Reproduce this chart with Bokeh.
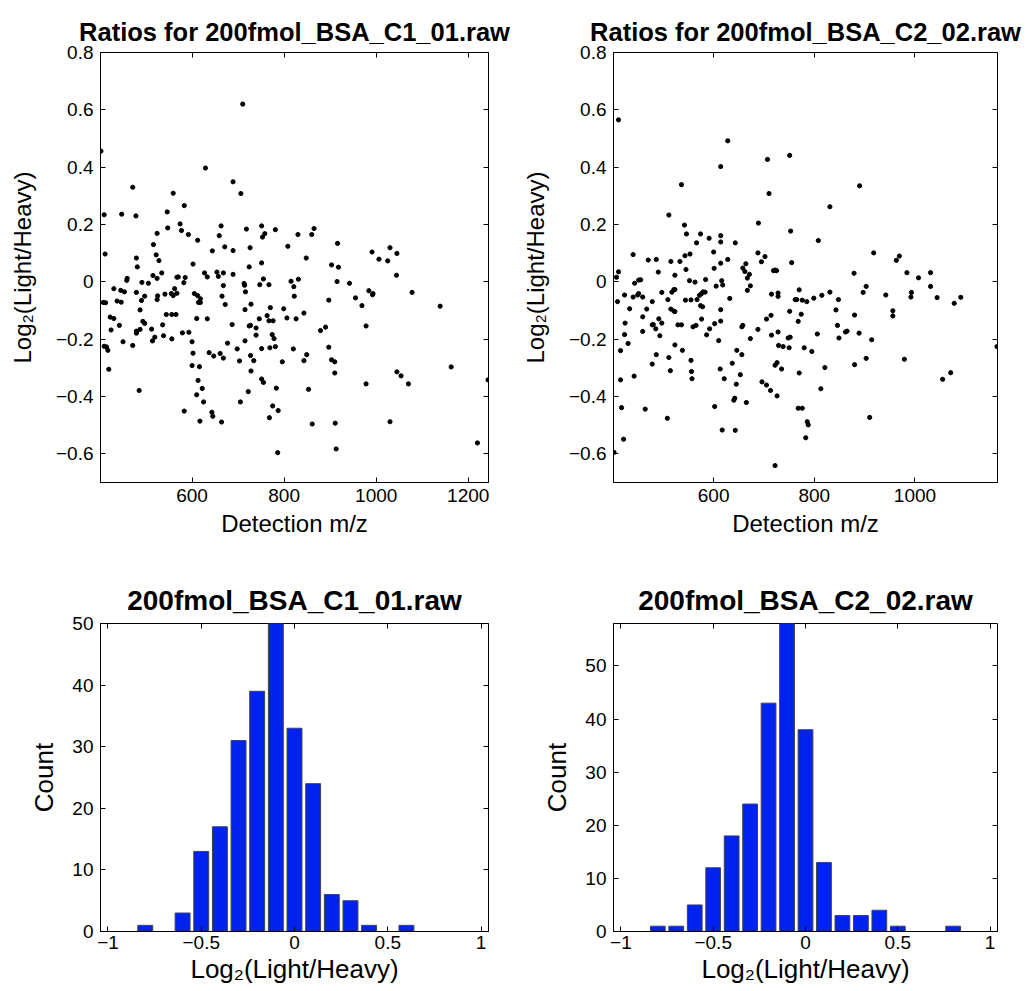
from bokeh.plotting import figure
from bokeh.layouts import gridplot
from bokeh.models import (FixedTicker, CustomJSTickFormatter, LinearAxis, Range1d,
                          CustomLabelingPolicy)
from bokeh.embed import file_html
from bokeh.resources import INLINE

# ---------------- data ----------------
mz_c1 = [710, 402, 629, 689, 471, 706, 559, 583, 546, 409, 447, 478, 574, 663, 751, 547, 577, 718, 781, 524,
         592, 758, 830, 753, 659, 612, 516, 808, 671, 726, 644, 689, 411, 522, 479, 528, 751, 602, 481, 724,
         534, 627, 654, 668, 515, 633, 657, 567, 570, 585, 524, 459, 458, 689, 755, 815, 831, 491, 505, 582,
         713, 714, 747, 767, 668, 821, 430, 445, 453, 479, 541, 555, 562, 567, 559, 605, 612, 618, 497, 525,
         524, 716, 665, 822, 407, 412, 437, 446, 490, 614, 618, 672, 728, 770, 799, 487, 715, 806, 826, 746,
         763, 544, 556, 565, 610, 633, 422, 430, 493, 497, 687, 724, 727, 739, 767, 776, 442, 536, 843, 487,
         512, 424, 479, 479, 579, 593, 774, 778, 739, 519, 538, 556, 514, 450, 471, 600, 677, 715, 409, 414,
         417, 698, 751, 769, 781, 820, 602, 637, 647, 661, 668, 727, 734, 703, 796, 843, 600, 616, 419, 728,
         751, 755, 613, 622, 783, 722, 485, 610, 625, 705, 775, 787, 583, 643, 645, 768, 617, 664, 786,
         865, 860, 916, 848, 903, 918, 915, 942, 897, 955, 969, 984, 993, 992, 1078, 1139, 879, 890, 978, 897,
         849, 903, 910, 910, 1163, 1045, 1054, 1070, 978, 1243, 853, 1030, 861, 911, 913, 1220, 991, 1006, 1025,
         1030, 1045, 1044]
ratio_c1 = [0.620, 0.456, 0.397, 0.349, 0.330, 0.308, 0.309, 0.266, 0.244, 0.234, 0.236, 0.230, 0.202, 0.195,
            0.195, 0.188, 0.179, 0.184, 0.182, 0.169, 0.165, 0.168, 0.165, 0.156, 0.161, 0.145, 0.130, 0.124,
            0.122, 0.119, 0.108, 0.109, 0.097, 0.094, 0.083, 0.074, 0.066, 0.062, 0.052, 0.052, 0.031, 0.031,
            0.034, 0.031, 0.022, 0.017, 0.019, 0.016, 0.017, 0.015, 0.012, 0.012, 0.005, 0.026, 0.010, 0.002,
            0.009, -0.002, -0.005, -0.003, -0.006, -0.012, -0.010, -0.010, -0.013, -0.017, -0.024, -0.030,
            -0.035, -0.037, -0.043, -0.041, -0.024, -0.040, -0.048, -0.041, -0.048, -0.059, -0.050, -0.049,
            -0.062, -0.035, -0.050, -0.050, -0.072, -0.073, -0.067, -0.071, -0.065, -0.072, -0.072, -0.079,
            -0.078, -0.090, -0.094, -0.098, -0.097, -0.126, -0.129, -0.129, -0.118, -0.114, -0.114, -0.114,
            -0.128, -0.129, -0.123, -0.128, -0.138, -0.145, -0.149, -0.154, -0.152, -0.161, -0.136, -0.136,
            -0.152, -0.150, -0.109, -0.166, -0.165, -0.168, -0.172, -0.179, -0.178, -0.176, -0.184, -0.198,
            -0.186, -0.193, -0.188, -0.199, -0.206, -0.209, -0.222, -0.209, -0.214, -0.206, -0.225, -0.227,
            -0.239, -0.234, -0.233, -0.230, -0.226, -0.234, -0.249, -0.247, -0.259, -0.250, -0.266, -0.257,
            -0.275, -0.276, -0.279, -0.275, -0.292, -0.296, -0.305, -0.311, -0.339, -0.351, -0.344, -0.372,
            -0.371, -0.383, -0.379, -0.394, -0.419, -0.419, -0.433, -0.449, -0.451, -0.455, -0.469, -0.474,
            -0.486, -0.489, -0.596,
            0.186, 0.165, 0.134, 0.083, 0.059, 0.051, 0.001, -0.005, -0.064, -0.056, -0.083, -0.031, -0.041,
            -0.045, -0.037, -0.085, -0.170, -0.158, -0.154, -0.228, -0.254, -0.272, -0.279, -0.318, -0.297,
            -0.314, -0.328, -0.356, -0.356, -0.342, -0.375, -0.488, -0.496, -0.493, -0.583, -0.562, 0.104,
            0.079, 0.073, 0.119, 0.099, 0.023]

mz_c2 = [411, 628, 707, 751, 614, 536, 710, 511, 689, 542, 546, 574, 614, 614, 753, 591, 566, 643, 553, 543,
         600, 440, 688, 702, 470, 486, 515, 533, 614, 628, 695, 755, 545, 601, 658, 664, 662, 671, 411, 407,
         490, 523, 605, 667, 673, 667, 584, 552, 563, 616, 618, 455, 451, 443, 451, 521, 523, 517, 497, 449,
         423, 440, 459, 579, 576, 583, 572, 632, 509, 544, 555, 567, 715, 719, 722, 725, 728, 728, 770, 765,
         762, 409, 478, 515, 521, 523, 614, 467, 433, 574, 578, 751, 774, 768, 424, 459, 491, 497, 480, 459,
         478, 485, 493, 529, 536, 559, 565, 576, 602, 614, 656, 658, 705, 714, 715, 728, 688, 673, 592, 586,
         610, 423, 430, 523, 538, 415, 729, 738, 748, 752, 750, 780, 646, 656, 637, 478, 486, 511, 555, 556,
         557, 613, 621, 514, 442, 415, 653, 645, 696, 705, 713, 722, 726, 735, 770, 665, 640, 642, 726, 602,
         464, 417, 768, 776, 508, 421, 617, 643, 783, 402, 722,
         890, 831, 808, 918, 963, 969, 879, 984, 1007, 1031, 1031, 903, 897, 831, 815, 799, 848, 942, 993, 992,
         1044, 1091, 1078, 843, 956, 956, 880, 846, 862, 865, 806, 889, 849, 914, 795, 903, 979, 821, 880, 813,
         1055, 1071, 910, 1163, 786, 788, 776, 785]
ratio_c2 = [0.565, 0.492, 0.427, 0.441, 0.402, 0.339, 0.308, 0.233, 0.205, 0.198, 0.167, 0.167, 0.161, 0.139,
            0.177, 0.152, 0.136, 0.136, 0.097, 0.091, 0.104, 0.095, 0.101, 0.088, 0.076, 0.078, 0.071, 0.071,
            0.065, 0.078, 0.070, 0.067, 0.043, 0.047, 0.048, 0.063, 0.036, 0.026, 0.035, 0.016, 0.034, 0.023,
            -0.015, 0.013, -0.014, -0.030, 0.008, 0.004, -0.001, 0.004, -0.011, 0.007, 0.006, -0.005, -0.041,
            -0.027, -0.027, -0.036, -0.037, -0.046, -0.046, -0.053, -0.053, -0.035, -0.041, -0.036, -0.047,
            -0.058, -0.062, -0.064, -0.063, -0.062, -0.043, 0.039, 0.041, 0.039, -0.039, -0.051, -0.028,
            -0.062, -0.062, -0.069, -0.069, -0.095, -0.102, -0.104, -0.097, -0.095, -0.094, -0.083, -0.087,
            -0.103, -0.113, -0.138, -0.144, -0.122, -0.129, -0.144, -0.149, -0.173, -0.150, -0.164, -0.188,
            -0.150, -0.150, -0.157, -0.152, -0.130, -0.146, -0.137, -0.157, -0.152, -0.130, -0.117, -0.186,
            -0.175, -0.166, -0.198, -0.164, -0.185, -0.205, -0.184, -0.215, -0.220, -0.239, -0.240, -0.222,
            -0.226, -0.196, -0.193, -0.230, -0.230, -0.239, -0.254, -0.284, -0.287, -0.254, -0.264, -0.274,
            -0.313, -0.338, -0.304, -0.338, -0.310, -0.329, -0.342, -0.324, -0.357, -0.349, -0.360, -0.379,
            -0.291, -0.282, -0.304, -0.318, -0.421, -0.413, -0.406, -0.398, -0.435, -0.444, -0.439, -0.441,
            -0.441, -0.476, -0.549, -0.517, -0.518, -0.544, -0.595, -0.641,
            0.335, 0.262, 0.144, 0.101, 0.075, 0.090, 0.030, 0.032, 0.014, 0.032, -0.016, -0.016, -0.037,
            -0.036, -0.047, -0.057, -0.062, -0.046, -0.037, -0.053, -0.055, -0.054, -0.075, -0.098, -0.101,
            -0.119, -0.116, -0.152, -0.175, -0.172, -0.182, -0.179, -0.196, -0.202, -0.243, -0.267, -0.270,
            -0.299, -0.289, -0.373, -0.340, -0.317, -0.473, -0.226, -0.488, -0.499, -0.064, -0.069]

bins_c1 = [-0.8, -0.6, -0.5, -0.4, -0.3, -0.2, -0.1, 0.0, 0.1, 0.2, 0.3, 0.4, 0.6]
counts_c1 = [1, 3, 13, 17, 31, 39, 50, 33, 24, 6, 5, 1, 1]
bins_c2 = [-0.8, -0.7, -0.6, -0.5, -0.4, -0.3, -0.2, -0.1, 0.0, 0.1, 0.2, 0.3, 0.4, 0.5, 0.8]
counts_c2 = [1, 1, 5, 12, 18, 24, 43, 58, 38, 13, 3, 3, 4, 1, 1]

titles = ["Ratios for 200fmol_BSA_C1_01.raw", "Ratios for 200fmol_BSA_C2_02.raw",
          "200fmol_BSA_C1_01.raw", "200fmol_BSA_C2_02.raw"]
ratio_ticks = [-0.6, -0.4, -0.2, 0, 0.2, 0.4, 0.6, 0.8]
mz_ticks = [600, 800, 1000, 1200]
log_ticks = [-1, -0.5, 0, 0.5, 1]
count_ticks = [0, 10, 20, 30, 40, 50]

FONT = "Liberation Sans"
fmt = CustomJSTickFormatter(code="""
const s = (Math.round(tick * 10) / 10).toString();
return s.replace('-', '\u2212');
""")
blank_fmt = CustomJSTickFormatter(code="return '';")
hide_labels = CustomLabelingPolicy(code="""
try {
  for (let i = 0; i < indices.size; i++) { indices.unset(i); }
} catch (e) {}
return indices;
""")


def style(p, xt, yt, label_size, y_label_standoff, title_size, title_standoff):
    p.title.text_font = FONT
    p.title.text_font_size = title_size
    p.title.text_font_style = "bold"
    p.title.align = "center"
    p.title.text_color = "black"
    p.title.standoff = title_standoff
    p.outline_line_color = "black"
    p.outline_line_width = 1
    p.grid.visible = False
    p.background_fill_color = "white"
    p.border_fill_color = "white"
    for ax in p.xaxis + p.yaxis:
        ax.major_tick_in = 5
        ax.major_tick_out = 0
        ax.minor_tick_in = 0
        ax.minor_tick_out = 0
        ax.axis_line_color = "black"
        ax.major_tick_line_color = "black"
        ax.major_label_text_font = FONT
        ax.major_label_text_font_size = "19px"
        ax.major_label_text_color = "black"
        ax.axis_label_text_font = FONT
        ax.axis_label_text_font_size = label_size
        ax.axis_label_text_font_style = "normal"
        ax.axis_label_text_color = "black"
        ax.formatter = fmt
    p.xaxis.ticker = FixedTicker(ticks=xt)
    p.yaxis.ticker = FixedTicker(ticks=yt)
    p.xaxis.major_label_standoff = 6
    p.xaxis.axis_label_standoff = 5
    p.yaxis.major_label_standoff = 7
    p.yaxis.axis_label_standoff = y_label_standoff
    # ticks on top and right (no labels)
    top = LinearAxis(ticker=FixedTicker(ticks=xt), formatter=blank_fmt,
                     major_label_policy=hide_labels,
                     major_tick_in=5, major_tick_out=0, minor_tick_in=0, minor_tick_out=0,
                     major_label_standoff=0, axis_line_color=None)
    right = LinearAxis(ticker=FixedTicker(ticks=yt), formatter=blank_fmt,
                       major_label_policy=hide_labels,
                       major_tick_in=5, major_tick_out=0, minor_tick_in=0, minor_tick_out=0,
                       major_label_standoff=0, axis_line_color=None)
    p.add_layout(top, "above")
    p.add_layout(right, "right")


def scatter_fig(title, mz, ratio, w, bl, br, xt):
    p = figure(width=w, height=548, output_backend="svg", toolbar_location=None,
               title=title, x_range=Range1d(min(mz) - 1, max(mz) + 1), y_range=Range1d(-0.7, 0.8),
               min_border_left=bl, min_border_right=br, min_border_top=52, min_border_bottom=66)
    p.scatter(mz, ratio, size=4.2, color="black")
    p.xaxis.axis_label = "Detection m/z"
    p.yaxis.axis_label = "Log\u2082(Light/Heavy)"
    style(p, xt, ratio_ticks, "24px", 17, "25.5px", 13)
    return p


def hist_fig(title, bins, counts, ymax, w, bl, br):
    p = figure(width=w, height=440, output_backend="svg", toolbar_location=None,
               title=title, x_range=Range1d(-1.04, 1.04), y_range=Range1d(0, ymax),
               min_border_left=bl, min_border_right=br, min_border_top=75, min_border_bottom=57)
    p.vbar(x=bins, top=counts, width=0.08, bottom=0, fill_color="#0022EE",
           line_color="#444444", line_width=1)
    p.xaxis.axis_label = "Log\u2082(Light/Heavy)"
    p.yaxis.axis_label = "Count"
    style(p, log_ticks, count_ticks, "26px", 10, "28px", 16)
    p.xaxis.major_label_standoff = 4
    p.xaxis.axis_label_standoff = 2
    return p


p1 = scatter_fig(titles[0], mz_c1, ratio_c1, 518, 100, 30, mz_ticks)
p2 = scatter_fig(titles[1], mz_c2, ratio_c2, 508, 93, 28, mz_ticks[:3])
p3 = hist_fig(titles[2], bins_c1, counts_c1, 50, 518, 100, 29)
p4 = hist_fig(titles[3], bins_c2, counts_c2, 58, 508, 93, 29)

grid = gridplot([[p1, p2], [p3, p4]], toolbar_location=None)
open("out.html", "w").write(file_html(grid, INLINE))
